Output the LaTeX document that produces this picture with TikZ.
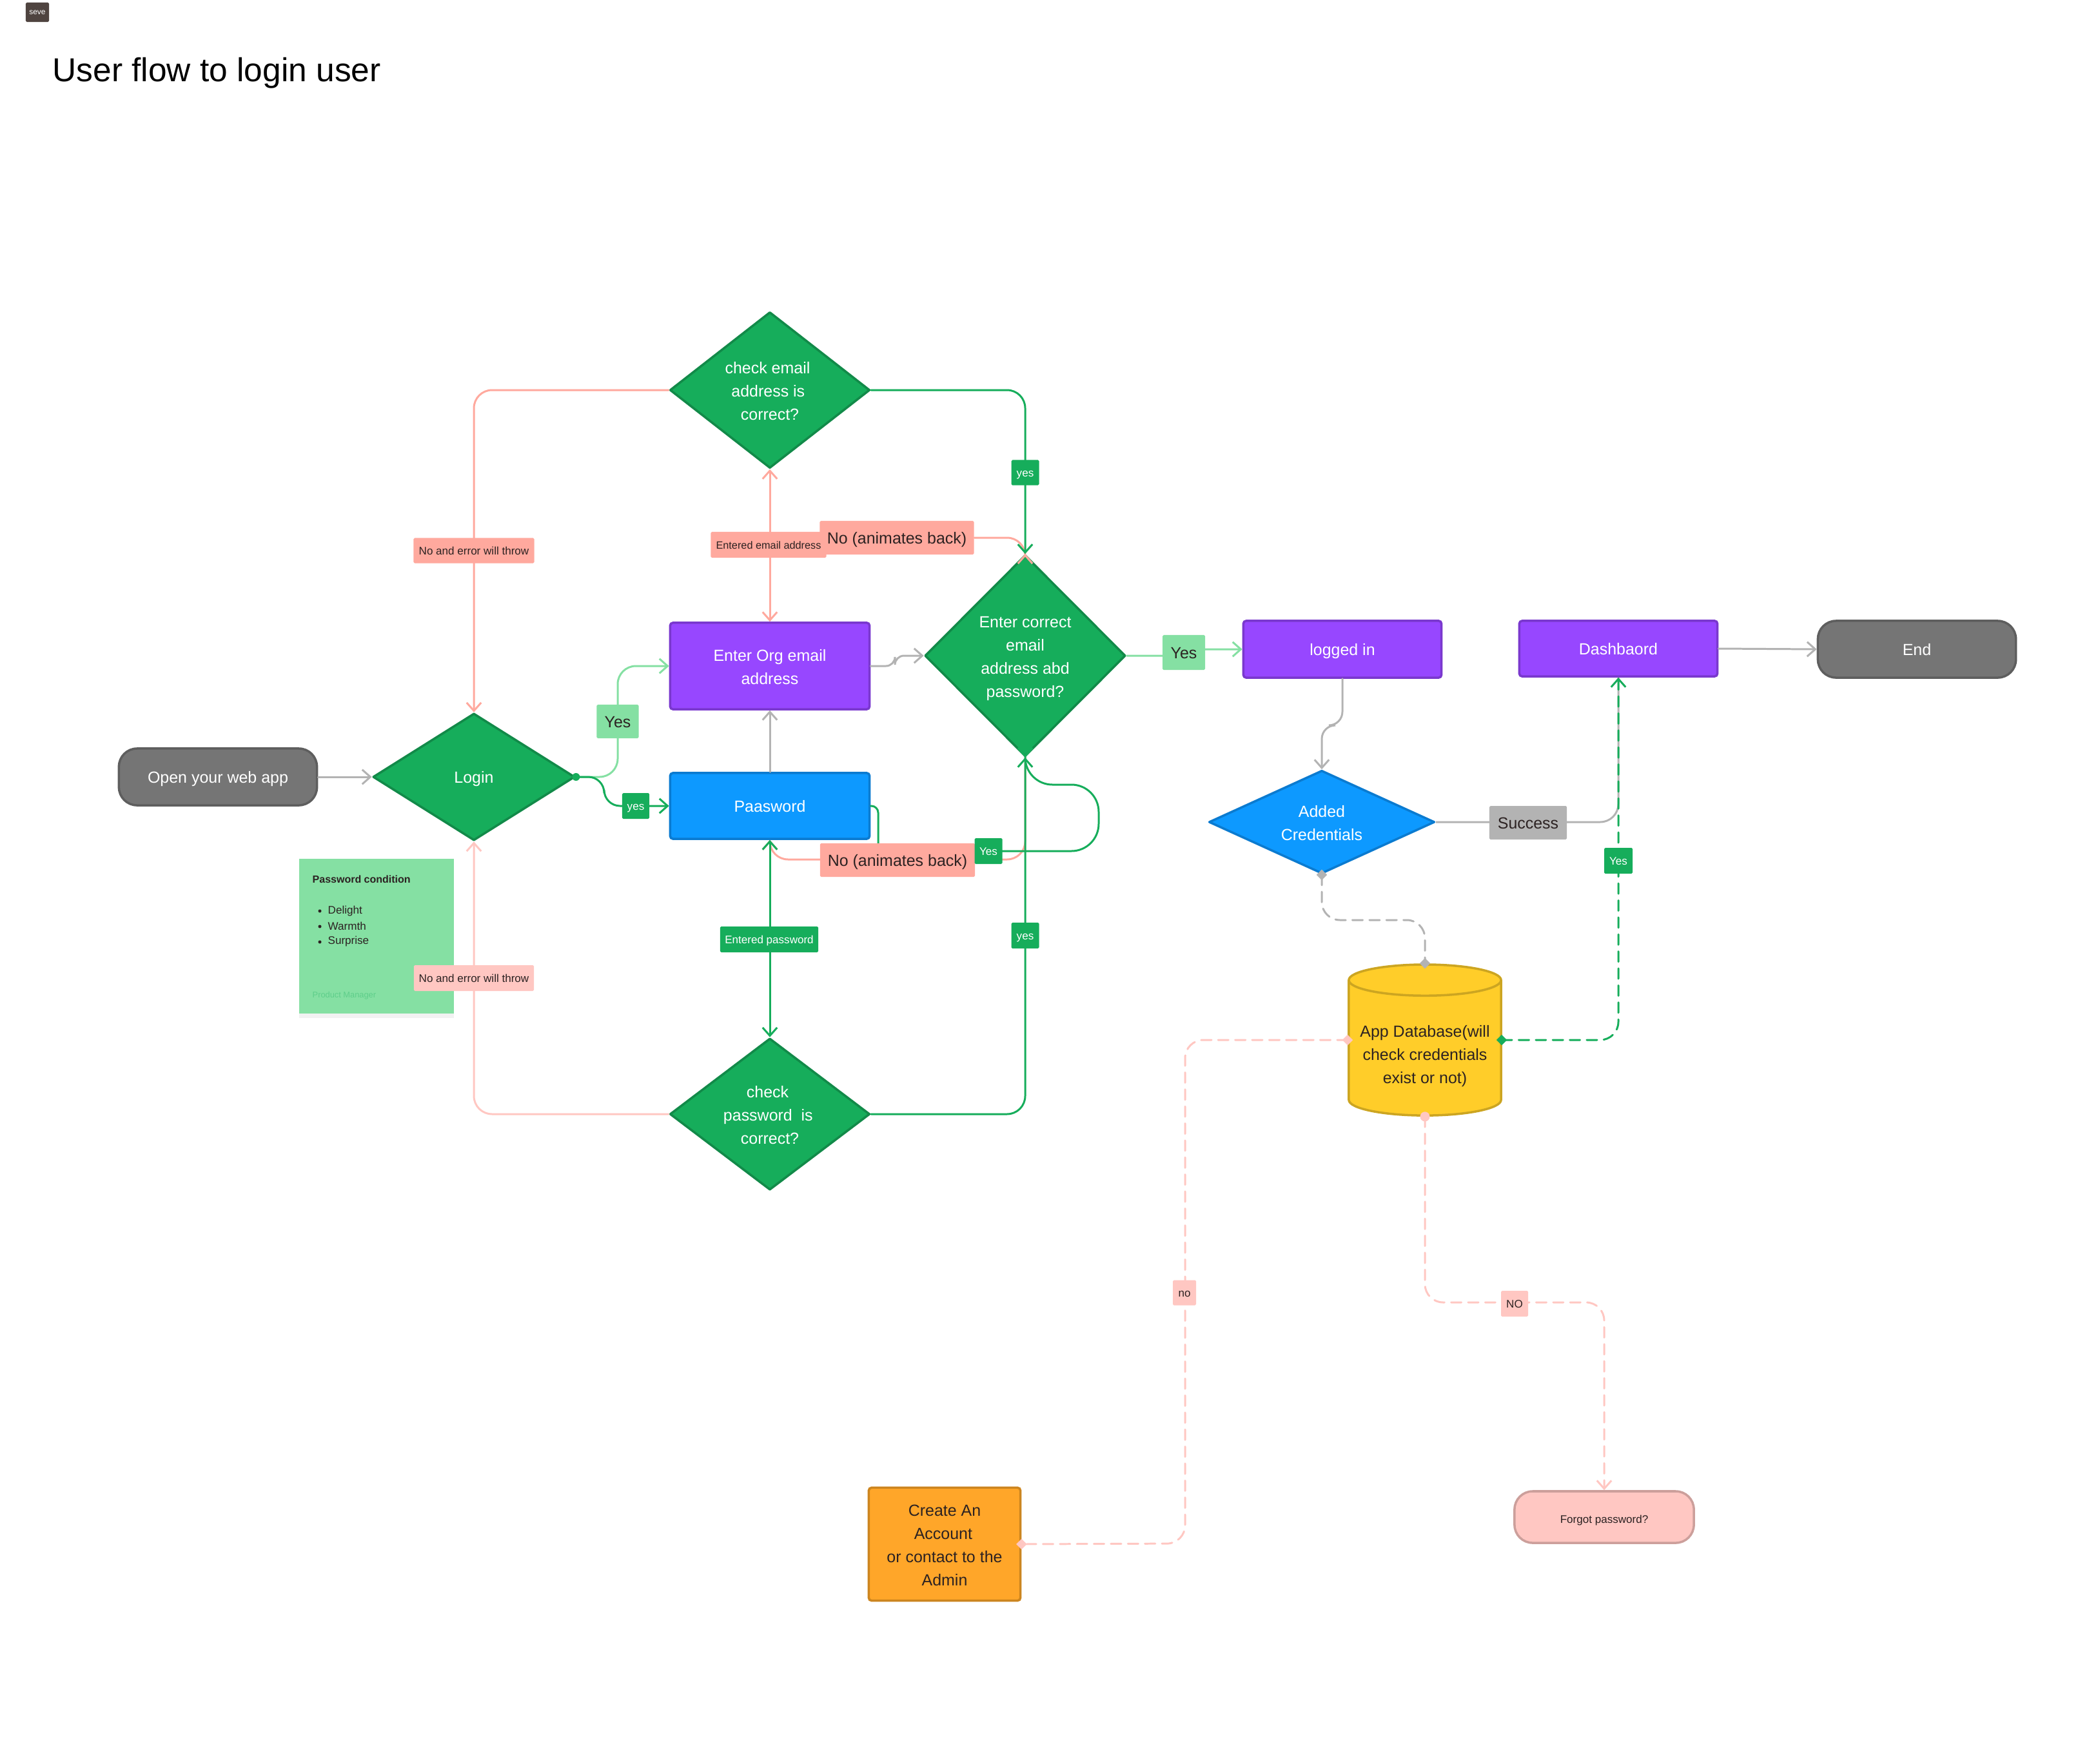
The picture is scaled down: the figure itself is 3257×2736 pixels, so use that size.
\documentclass[tikz,border=0pt]{standalone}
\usepackage{fontspec}
\setmainfont{Liberation Sans}
\usetikzlibrary{shapes.geometric,arrows.meta,shadows}

\definecolor{flowgreen}{HTML}{16AD5B}
\definecolor{flowgreendark}{HTML}{128A49}
\definecolor{lightgreen}{HTML}{85E0A3}
\definecolor{flowpurple}{HTML}{9747FF}
\definecolor{flowpurpledark}{HTML}{7A38CE}
\definecolor{flowblue}{HTML}{0D99FF}
\definecolor{flowbluedark}{HTML}{0B7BD0}
\definecolor{flowgrey}{HTML}{757575}
\definecolor{flowgreydark}{HTML}{5E5E5E}
\definecolor{linegrey}{HTML}{B3B3B3}
\definecolor{flowyellow}{HTML}{FFCD29}
\definecolor{flowyellowdark}{HTML}{CCA521}
\definecolor{floworange}{HTML}{FFA629}
\definecolor{floworangedark}{HTML}{CC851F}
\definecolor{flowpink}{HTML}{FFC7C2}
\definecolor{flowpinkdark}{HTML}{CC9F9B}
\definecolor{flowred}{HTML}{FFA99E}
\definecolor{inkdark}{HTML}{2C2222}
\definecolor{badgebrown}{HTML}{4F4440}

\newcommand{\bodyfont}{\fontsize{7.1}{10.24}\selectfont}
\newcommand{\tinyfont}{\fontsize{4.85}{6.5}\selectfont}
\newcommand{\toppad}[1]{\rule{0pt}{#1}}

\tikzset{
  bodytext/.style={font=\bodyfont, execute at begin node={\rule{0pt}{6.9pt}}, execute at end node={\rule[-1.6pt]{0pt}{1.6pt}}},
  tinytext/.style={font=\tinyfont, execute at begin node={\rule{0pt}{4.7pt}}, execute at end node={\rule[-1.1pt]{0pt}{1.1pt}}},
  box/.style={draw, rectangle, rounded corners=1.2pt, line width=1pt, text=white, align=center, bodytext},
  pill/.style={draw=flowgreydark, fill=flowgrey, rectangle, rounded corners=8pt, line width=1pt, text=white,
    minimum width=3.07cm, minimum height=0.88cm, bodytext},
  decision/.style={draw=flowgreendark, fill=flowgreen, diamond, aspect=1, inner sep=0pt, line width=1pt,
    line join=round, text=white, align=center, bodytext},
  biglabel/.style={rectangle, rounded corners=0.5pt, text=inkdark, bodytext, inner sep=0pt},
  smalllabel/.style={rectangle, rounded corners=0.5pt, text=inkdark, tinytext, inner sep=0pt},
  flow/.style={line width=0.85pt, line cap=round, rounded corners=8pt,
    arrows={-{Straight Barb[length=3.6pt,width=6.4pt,line width=0.85pt]}}},
  bothways/.style={flow, arrows={{Straight Barb[length=3.6pt,width=6.4pt,line width=0.85pt]}-{Straight Barb[length=3.6pt,width=6.4pt,line width=0.85pt]}}},
  dashflow/.style={flow, dash pattern=on 4.6pt off 2.9pt},
  rhombmark/.style={diamond, aspect=1, inner sep=0pt, minimum size=0.17cm},
  roundmark/.style={circle, inner sep=0pt, minimum size=0.15cm}
}

\begin{document}
\begin{tikzpicture}[x=0.01cm, y=-0.01cm]
  \useasboundingbox (0,0) rectangle (3257,2736);

  % Badge and title at the top left
  \node[rectangle, rounded corners=0.5pt, fill=badgebrown, text=white, minimum width=0.36cm, minimum height=0.30cm, inner sep=0pt, font=\fontsize{3.4}{3.4}\selectfont] (Badge) at (58,19) {seve};
  \node[anchor=base west, inner sep=0pt, font=\fontsize{14.63}{17}\selectfont] (Title) at (81,126) {User flow to login user};

  % Sticky note with the password condition
  \node[rectangle, fill=lightgreen, minimum width=2.4cm, minimum height=2.4cm, inner sep=0pt,
    drop shadow={opacity=0.1, shadow xshift=0pt, shadow yshift=-0.07cm}] (Sticky) at (584,1452) {};
  \node[anchor=west, inner sep=0pt, text=inkdark, font=\fontsize{4.55}{6}\selectfont\bfseries] (StickyHead) at (484,1364) {Password condition};
  \node[anchor=west, inner sep=0pt, text=inkdark, font=\tinyfont] (ItemA) at (508,1413) {Delight};
  \node[anchor=west, inner sep=0pt, text=inkdark, font=\tinyfont] (ItemB) at (508,1436) {Warmth};
  \node[anchor=west, inner sep=0pt, text=inkdark, font=\tinyfont] (ItemC) at (508,1460) {Surprise};
  \node[circle, fill=inkdark, inner sep=0pt, minimum size=0.05cm] (BulletA) at (496,1413) {};
  \node[circle, fill=inkdark, inner sep=0pt, minimum size=0.05cm] (BulletB) at (496,1437) {};
  \node[circle, fill=inkdark, inner sep=0pt, minimum size=0.05cm] (BulletC) at (496,1461) {};
  \node[anchor=west, inner sep=0pt, text=flowgreen!35!lightgreen, font=\fontsize{3.65}{5}\selectfont] (StickyFoot) at (484,1544) {Product Manager};

  % Start, end and the process boxes
  \node[pill] (Open) at (338,1205) {Open your web app};
  \node[pill] (End) at (2973,1007) {End};
  \node[box, draw=flowpurpledark, fill=flowpurple, minimum width=3.09cm, minimum height=1.34cm] (Org) at (1194,1033) {\toppad{7.3pt}Enter Org email\\address};
  \node[box, draw=flowbluedark, fill=flowblue, minimum width=3.09cm, minimum height=1.02cm] (Pass) at (1194,1250) {Paasword};
  \node[box, draw=flowpurpledark, fill=flowpurple, minimum width=3.07cm, minimum height=0.88cm] (Logged) at (2082,1007) {logged in};
  \node[box, draw=flowpurpledark, fill=flowpurple, minimum width=3.07cm, minimum height=0.86cm] (Dash) at (2510,1006) {Dashbaord};
  \node[box, draw=floworangedark, fill=floworange, text=inkdark, minimum width=2.35cm, minimum height=1.75cm] (Create) at (1465,2395) {\toppad{7.3pt}Create An\\Account\kern1.2pt\\or contact to the\\Admin};
  \node[pill, draw=flowpinkdark, fill=flowpink, text=inkdark, tinytext, minimum width=2.78cm, minimum height=0.80cm] (Forgot) at (2488,2353) {Forgot password?};

  % Decisions
  \node[decision, minimum width=3.13cm, minimum height=1.97cm] (Login) at (735,1205) {Login};
  \node[decision, minimum width=3.10cm, minimum height=2.41cm] (CheckMail) at (1194,605) {\toppad{7.3pt}check email\kern2pt\\address is\kern1.5pt\\correct?};
  \node[decision, aspect=1.3, minimum width=3.10cm, minimum height=2.35cm] (CheckPass) at (1194,1728) {\toppad{7.3pt}check\kern2pt\\password\ \ is\kern1.5pt\\correct?};
  \node[decision, minimum width=3.11cm, minimum height=3.12cm] (Correct) at (1590,1017) {\toppad{7.3pt}Enter correct\\email\\address abd\\password?};
  \node[decision, aspect=2.2, draw=flowbluedark, fill=flowblue, minimum width=3.50cm, minimum height=1.60cm] (Added) at (2050,1275) {\toppad{7.3pt}Added\\Credentials};

  % Database
  \node[cylinder, shape border rotate=90, aspect=0.24, draw=flowyellowdark, fill=flowyellow, cylinder uses custom fill, cylinder body fill=flowyellow, cylinder end fill=flowyellow, line width=1pt, text=inkdark, align=center, bodytext, minimum width=2.36cm, minimum height=2.34cm, inner sep=0pt] (Db) at (2210,1626) {\toppad{12.3pt}App Database(will\\check credentials\\exist or not)};
  \coordinate (DbEast) at (2329,1613);
  \coordinate (DbWest) at (2090,1613);

  % Connectors: grey
  \draw[flow, linegrey] (Open.east) -- (Login.west);
  \draw[flow, linegrey] (Pass.north) -- (Org.south);
  \draw[flow, linegrey, rounded corners=4pt] (Org.east) -- (1388,1033) -- (1388,1017) -- (Correct.west);
  \draw[flow, linegrey, rounded corners=6pt] (Logged.south) -- (2082,1125) -- (2050,1125) -- (Added.north);
  \draw[flow, linegrey] (Dash.east) -- (End.west);
  \draw[line width=0.85pt, linegrey, rounded corners=8pt] (Added.east) -- (2510,1275) -- (Dash.south);
  \draw[dashflow, linegrey, arrows={-}] (Added.south) -- (2050,1427) -- (2210,1427) -- (Db.top);

  % Connectors: red and pink
  \draw[bothways, flowred] (Org.north) -- (CheckMail.south);
  \draw[flow, flowred] (CheckMail.west) -- (735,605) -- (Login.north);
  \draw[flow, flowpink] (CheckPass.west) -- (735,1728) -- (Login.south);
  \draw[flow, flowred] (1511,834) -- (1590,834) -- (Correct.north);
  \draw[flow, flowred] (Correct.south) -- (1590,1333) -- (1194,1333) -- (Pass.south);

  % Connectors: green
  \draw[flow, lightgreen] (Login.east) -- (958,1205) -- (958,1033) -- (Org.west);
  \draw[flow, lightgreen, rounded corners=3pt] (Correct.east) -- (1836,1017) -- (1836,1007) -- (Logged.west);
  \draw[flow, flowgreen, rounded corners=7pt] (Login.east) -- (937,1205) -- (937,1250) -- (Pass.west);
  \draw[flow, flowgreen] (CheckMail.east) -- (1590,605) -- (Correct.north);
  \draw[flow, flowgreen] (CheckPass.east) -- (1590,1728) -- (Correct.south);
  \draw[bothways, flowgreen] (Pass.south) -- (CheckPass.north);
  \draw[flow, flowgreen, rounded corners=3pt, arrows={-}] (Pass.east) -- (1362,1250) -- (1362,1320) -- (1500,1320);
  \draw[flow, flowgreen, rounded corners=12pt] (1500,1320) -- (1704,1320) -- (1704,1217) -- (1590,1217) -- (Correct.south);

  % Connectors: dashed out of the database
  \draw[dashflow, flowgreen] (DbEast) -- (2510,1613) -- (Dash.south);
  \draw[dashflow, flowpink, arrows={-}] (DbWest) -- (1838,1613) -- (1838,2394) -- (Create.east);
  \draw[dashflow, flowpink] (Db.bottom) -- (2210,2020) -- (2488,2020) -- (Forgot.north);

  % End marks on the connectors
  \node[circle, fill=flowgreen, inner sep=0pt, minimum size=0.12cm] (MarkLogin) at (Login.east) {};
  \node[rhombmark, fill=linegrey] (MarkAdded) at (Added.south) {};
  \node[rhombmark, fill=linegrey] (MarkTop) at (Db.top) {};
  \node[rhombmark, fill=flowgreen] (MarkEast) at (DbEast) {};
  \node[rhombmark, fill=flowpink] (MarkWest) at (DbWest) {};
  \node[roundmark, fill=flowpink] (MarkBottom) at (Db.bottom) {};
  \node[rhombmark, fill=flowpink] (MarkCreate) at (Create.east) {};

  % Labels on the connectors
  \node[smalllabel, fill=flowred, minimum width=1.87cm, minimum height=0.39cm] (ErrTop) at (735,854) {No and error will throw};
  \node[smalllabel, fill=flowpink, minimum width=1.86cm, minimum height=0.40cm] (ErrBottom) at (735,1517) {No and error will throw};
  \node[biglabel, fill=flowred, minimum width=2.39cm, minimum height=0.52cm] (NoTop) at (1391,834) {No (animates back)};
  \node[smalllabel, font=\fontsize{4.63}{6}\selectfont, fill=flowred, minimum width=1.79cm, minimum height=0.40cm] (MailEntered) at (1192,845) {Entered email address};
  \node[biglabel, fill=flowred, minimum width=2.40cm, minimum height=0.52cm] (NoBottom) at (1392,1334) {No (animates back)};
  \node[biglabel, fill=lightgreen, minimum width=0.65cm, minimum height=0.52cm] (YesLogin) at (958,1119) {Yes};
  \node[smalllabel, fill=flowgreen, text=white, minimum width=0.42cm, minimum height=0.40cm] (YesPass) at (986,1250) {yes};
  \node[smalllabel, fill=flowgreen, text=white, minimum width=0.43cm, minimum height=0.40cm] (YesLoop) at (1533,1320) {Yes};
  \node[smalllabel, fill=flowgreen, text=white, minimum width=1.52cm, minimum height=0.40cm] (PassEntered) at (1193,1457) {Entered password};
  \node[smalllabel, fill=flowgreen, text=white, minimum width=0.43cm, minimum height=0.40cm] (YesLow) at (1590,1451) {yes};
  \node[smalllabel, fill=flowgreen, text=white, minimum width=0.43cm, minimum height=0.39cm] (YesHigh) at (1590,733) {yes};
  \node[biglabel, fill=lightgreen, minimum width=0.66cm, minimum height=0.54cm] (YesRight) at (1836,1012) {Yes};
  \node[biglabel, fill=linegrey, minimum width=1.20cm, minimum height=0.52cm] (Success) at (2370,1276) {Success};
  \node[smalllabel, fill=flowgreen, text=white, minimum width=0.44cm, minimum height=0.40cm] (YesDash) at (2510,1335) {Yes};
  \node[smalllabel, fill=flowpink, minimum width=0.36cm, minimum height=0.39cm] (NoLeft) at (1837,2005) {no};
  \node[smalllabel, fill=flowpink, minimum width=0.42cm, minimum height=0.40cm] (NoRight) at (2349,2022) {NO};
\end{tikzpicture}
\end{document}
